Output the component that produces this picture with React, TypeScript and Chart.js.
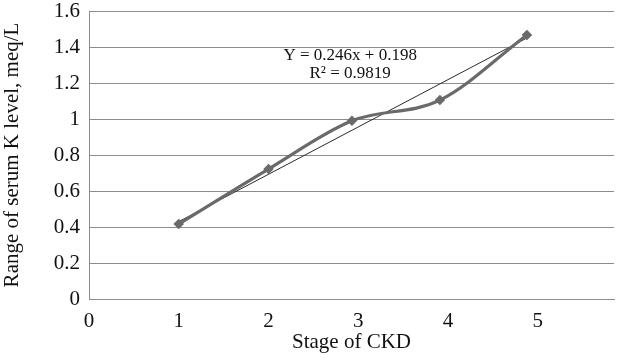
import React, { useEffect, useRef } from "react";
import { Chart, registerables } from "chart.js";

Chart.register(...registerables);

const stageX = [1, 2, 2.93, 3.91, 4.88];
const kRange = [0.417, 0.722, 0.99, 1.105, 1.467];
const trendX = [1, 4.88];
const trendY = [0.43, 1.45];
const yTicks = [0, 0.2, 0.4, 0.6, 0.8, 1, 1.2, 1.4, 1.6];
const xTicks = [0, 1, 2, 3, 4, 5];
const equationLines = ["Y = 0.246x + 0.198", "R² = 0.9819"];

const FONT = "'Liberation Serif', 'Times New Roman', serif";

export default function App() {
  const ref = useRef<HTMLCanvasElement | null>(null);
  useEffect(() => {
    document.body.style.margin = "0";
    const canvas = ref.current;
    if (!canvas) return;
    const annotation = {
      id: "equation",
      afterDatasetsDraw(chart: any) {
        const ctx = chart.ctx;
        const xs = chart.scales.x;
        const ys = chart.scales.y;
        ctx.save();
        ctx.fillStyle = "#111";
        ctx.font = `17px ${FONT}`;
        ctx.textAlign = "center";
        ctx.textBaseline = "middle";
        const cx = xs.getPixelForValue(2.91);
        ctx.fillText(equationLines[0], cx, ys.getPixelForValue(1.35));
        ctx.fillText(equationLines[1], cx, ys.getPixelForValue(1.25));
        ctx.restore();
      },
    };
    const chart = new Chart(canvas, {
      type: "line",
      data: {
        datasets: [
          {
            data: trendX.map((x, i) => ({ x, y: trendY[i] })),
            borderColor: "#2a2a2a",
            borderWidth: 1,
            pointRadius: 0,
            tension: 0,
            order: 2,
          },
          {
            data: stageX.map((x, i) => ({ x, y: kRange[i] })),
            borderColor: "#6a6a6a",
            backgroundColor: "#6a6a6a",
            borderWidth: 3.2,
            pointStyle: "rectRot",
            pointRadius: 3,
            cubicInterpolationMode: "monotone",
            tension: 0.4,
            order: 1,
          },
        ],
      },
      plugins: [annotation],
      options: {
        animation: false,
        responsive: false,
        maintainAspectRatio: false,
        layout: { autoPadding: false, padding: { top: 11, right: 3, left: 0, bottom: 0 } },
        plugins: { legend: { display: false }, tooltip: { enabled: false } },
        scales: {
          x: {
            type: "linear",
            min: 0,
            max: 5.85,
            afterBuildTicks: (s: any) => {
              s.ticks = xTicks.map((v) => ({ value: v }));
            },
            ticks: {
              color: "#111",
              font: { family: FONT, size: 21 },
              padding: 10,
              maxRotation: 0,
            },
            grid: { display: false, drawTicks: false },
            border: { display: true, color: "#8c8c8c", width: 1 },
            title: {
              display: true,
              text: "Stage of CKD",
              color: "#111",
              font: { family: FONT, size: 21 },
              padding: { top: 0, bottom: 7 },
            },
            afterFit: (s: any) => {
              s.height = 63;
              s.paddingLeft = 0;
              s.paddingRight = 0;
            },
          },
          y: {
            min: 0,
            max: 1.6,
            afterBuildTicks: (s: any) => {
              s.ticks = yTicks.map((v) => ({ value: v }));
            },
            ticks: {
              color: "#111",
              font: { family: FONT, size: 21 },
              padding: 9,
              callback: (v: any) => String(Math.round(Number(v) * 10) / 10),
            },
            grid: { color: "#8c8c8c", lineWidth: 1, drawTicks: false },
            border: { display: true, color: "#8c8c8c", width: 1 },
            title: {
              display: true,
              text: "Range of serum K level, meq/L",
              color: "#111",
              font: { family: FONT, size: 21 },
              padding: { top: 0, bottom: 0 },
            },
            afterFit: (s: any) => {
              s.width = 89;
              s.paddingTop = 0;
              s.paddingBottom = 0;
            },
          },
        },
      },
    });
    return () => chart.destroy();
  }, []);
  return (
    <div style={{ position: "fixed", left: 0, top: 0, width: 617, height: 362, background: "#fff" }}>
      <canvas ref={ref} width={617} height={362} style={{ width: 617, height: 362, display: "block" }} />
    </div>
  );
}
